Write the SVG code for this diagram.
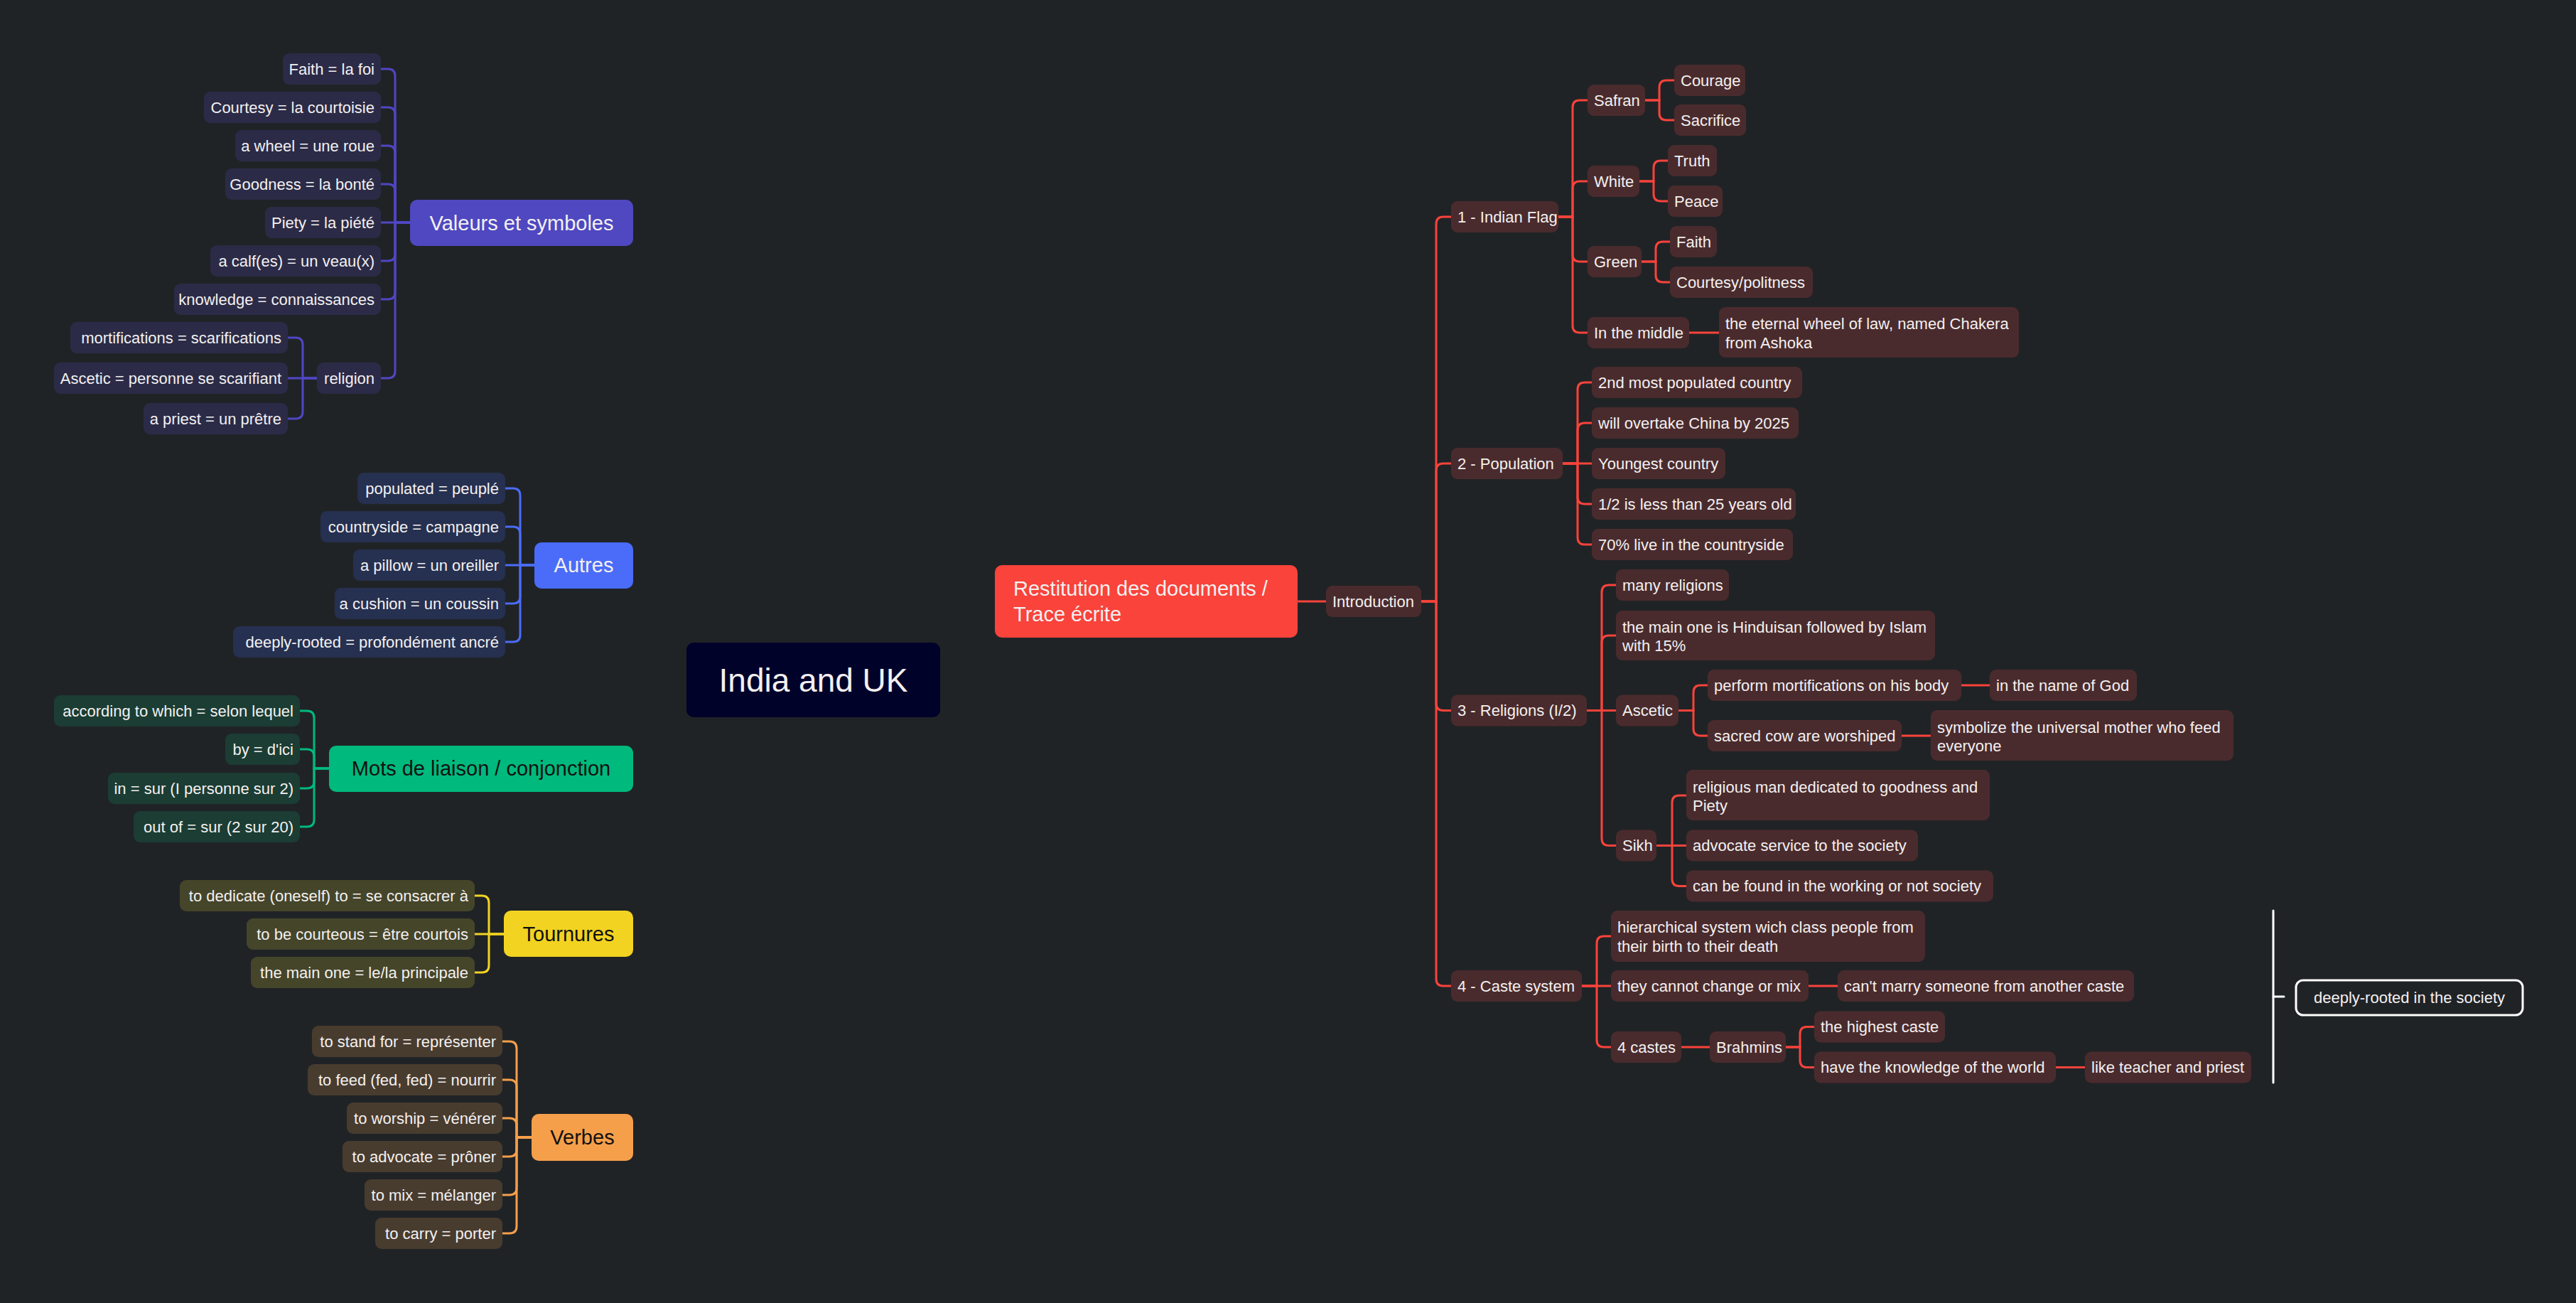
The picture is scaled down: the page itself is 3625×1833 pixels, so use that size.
<svg xmlns="http://www.w3.org/2000/svg" width="3625" height="1833" viewBox="0 0 3625 1833">
<style>
text{font-family:"Liberation Sans",Arial,sans-serif;font-size:22px;fill:#f3f0f0;dominant-baseline:central}
.e{text-anchor:end}
.m{text-anchor:middle}
.big{font-size:29px}
.dark{fill:#111111}
.pv{fill:#2b2b47}.pa{fill:#263050}.pm{fill:#1b3d33}.pt{fill:#45452a}.pb{fill:#483c2f}.pr{fill:#4a2b2d}
.c path{fill:none;stroke-width:3;stroke-linecap:round}
.cv path{stroke:#5046c4}.ca path{stroke:#4a6cf8}.cm path{stroke:#00b97c}.ct path{stroke:#f2d321}.cb path{stroke:#f69f4b}.cr path{stroke:#f9433b}.cw path{stroke:#ffffff}
</style>
<rect width="3625" height="1833" fill="#202326"/>
<g id="connectors" class="c">
<g class="cv">
<path d="M577,313 H556 V107 Q556,97 546,97 H536"/>
<path d="M577,313 H556 V161 Q556,151 546,151 H536"/>
<path d="M577,313 H556 V215 Q556,205 546,205 H536"/>
<path d="M577,313 H556 V269 Q556,259 546,259 H536"/>
<path d="M577,313 H536"/>
<path d="M577,313 H556 V357 Q556,367 546,367 H536"/>
<path d="M577,313 H556 V411 Q556,421 546,421 H536"/>
<path d="M577,313 H556 V522 Q556,532 546,532 H536"/>
<path d="M446,532 H426 V485 Q426,475 416,475 H405"/>
<path d="M446,532 H405"/>
<path d="M446,532 H426 V579 Q426,589 416,589 H405"/>
</g>
<g class="ca">
<path d="M752,795 H732 V697 Q732,687 722,687 H711"/>
<path d="M752,795 H732 V751 Q732,741 722,741 H711"/>
<path d="M752,795 H711"/>
<path d="M752,795 H732 V839 Q732,849 722,849 H711"/>
<path d="M752,795 H732 V893 Q732,903 722,903 H711"/>
</g>
<g class="cm">
<path d="M463,1081 H442 V1010 Q442,1000 432,1000 H422"/>
<path d="M463,1081 H442 V1064 Q442,1054 432,1054 H422"/>
<path d="M463,1081 H442 V1099 Q442,1109 432,1109 H422"/>
<path d="M463,1081 H442 V1153 Q442,1163 432,1163 H422"/>
</g>
<g class="ct">
<path d="M709,1314 H688 V1270 Q688,1260 678,1260 H668"/>
<path d="M709,1314 H668"/>
<path d="M709,1314 H688 V1358 Q688,1368 678,1368 H668"/>
</g>
<g class="cb">
<path d="M748,1600 H727 V1475 Q727,1465 717,1465 H707"/>
<path d="M748,1600 H727 V1529 Q727,1519 717,1519 H707"/>
<path d="M748,1600 H727 V1583 Q727,1573 717,1573 H707"/>
<path d="M748,1600 H727 V1617 Q727,1627 717,1627 H707"/>
<path d="M748,1600 H727 V1671 Q727,1681 717,1681 H707"/>
<path d="M748,1600 H727 V1725 Q727,1735 717,1735 H707"/>
</g>
<g class="cr">
<path d="M1826,846 H1866"/>
<path d="M2000,846 H2021 V315 Q2021,305 2031,305 H2042"/>
<path d="M2000,846 H2021 V662 Q2021,652 2031,652 H2042"/>
<path d="M2000,846 H2021 V989.5 Q2021,999.5 2031,999.5 H2042"/>
<path d="M2000,846 H2021 V1377 Q2021,1387 2031,1387 H2042"/>
<path d="M2193,305 H2213 V151 Q2213,141 2223,141 H2234"/>
<path d="M2193,305 H2213 V265 Q2213,255 2223,255 H2234"/>
<path d="M2193,305 H2213 V358 Q2213,368 2223,368 H2234"/>
<path d="M2193,305 H2213 V458 Q2213,468 2223,468 H2234"/>
<path d="M2315,141 H2335 V123 Q2335,113 2345,113 H2356"/>
<path d="M2315,141 H2335 V159 Q2335,169 2345,169 H2356"/>
<path d="M2307,255 H2327 V236 Q2327,226 2337,226 H2347"/>
<path d="M2307,255 H2327 V273 Q2327,283 2337,283 H2347"/>
<path d="M2310,368 H2330 V350 Q2330,340 2340,340 H2350"/>
<path d="M2310,368 H2330 V387 Q2330,397 2340,397 H2350"/>
<path d="M2377,468 H2419"/>
<path d="M2199,652 H2220 V548 Q2220,538 2230,538 H2240"/>
<path d="M2199,652 H2220 V605 Q2220,595 2230,595 H2240"/>
<path d="M2199,652 H2240"/>
<path d="M2199,652 H2220 V699 Q2220,709 2230,709 H2240"/>
<path d="M2199,652 H2220 V756 Q2220,766 2230,766 H2240"/>
<path d="M2233,999.5 H2254 V833 Q2254,823 2264,823 H2274"/>
<path d="M2233,999.5 H2254 V904 Q2254,894 2264,894 H2274"/>
<path d="M2233,999.5 H2274"/>
<path d="M2233,999.5 H2254 V1179.5 Q2254,1189.5 2264,1189.5 H2274"/>
<path d="M2362,999.5 H2383 V974 Q2383,964 2393,964 H2403"/>
<path d="M2362,999.5 H2383 V1025 Q2383,1035 2393,1035 H2403"/>
<path d="M2760,964 H2800"/>
<path d="M2676,1035 H2717"/>
<path d="M2331,1189.5 H2353 V1129 Q2353,1119 2363,1119 H2373"/>
<path d="M2331,1189.5 H2373"/>
<path d="M2331,1189.5 H2353 V1236.5 Q2353,1246.5 2363,1246.5 H2373"/>
<path d="M2226,1387 H2247 V1327 Q2247,1317 2257,1317 H2267"/>
<path d="M2226,1387 H2267"/>
<path d="M2226,1387 H2247 V1463 Q2247,1473 2257,1473 H2267"/>
<path d="M2545,1387 H2586"/>
<path d="M2366,1473 H2406"/>
<path d="M2513,1473 H2533 V1454.5 Q2533,1444.5 2543,1444.5 H2553"/>
<path d="M2513,1473 H2533 V1491.5 Q2533,1501.5 2543,1501.5 H2553"/>
<path d="M2893,1501.5 H2934"/>
</g>
<g class="cw">
<path d="M3199,1281 V1523" stroke-linecap="butt"/>
<path d="M3199,1402 H3214" stroke-linecap="butt"/>
</g>
</g>

<g id="root"><rect x="966" y="904" width="357" height="105" rx="10" fill="#01022a"/><text x="1144.5" y="956.5" class="m" style="font-size:46px">India and UK</text></g>

<g id="valeurs"><rect x="577" y="281" width="314" height="65" rx="10" fill="#4f48c0"/><text x="734" y="313.5" class="m big">Valeurs et symboles</text></g>
<g id="v1"><rect class="pv" x="398" y="75" width="138" height="44" rx="9"/><text x="527" y="97" class="e">Faith = la foi</text></g>
<g id="v2"><rect class="pv" x="287" y="129" width="249" height="44" rx="9"/><text x="527" y="151" class="e">Courtesy = la courtoisie</text></g>
<g id="v3"><rect class="pv" x="331" y="183" width="205" height="44" rx="9"/><text x="527" y="205" class="e">a wheel = une roue</text></g>
<g id="v4"><rect class="pv" x="317" y="237" width="219" height="44" rx="9"/><text x="527" y="259" class="e">Goodness = la bonté</text></g>
<g id="v5"><rect class="pv" x="373" y="291" width="163" height="44" rx="9"/><text x="527" y="313" class="e">Piety = la piété</text></g>
<g id="v6"><rect class="pv" x="296" y="345" width="240" height="44" rx="9"/><text x="527" y="367" class="e">a calf(es) = un veau(x)</text></g>
<g id="v7"><rect class="pv" x="245" y="399" width="291" height="44" rx="9"/><text x="527" y="421" class="e">knowledge = connaissances</text></g>
<g id="v8"><rect class="pv" x="446" y="510" width="90" height="44" rx="9"/><text x="527" y="532" class="e">religion</text></g>
<g id="v9"><rect class="pv" x="99" y="453" width="306" height="44" rx="9"/><text x="396" y="475" class="e">mortifications = scarifications</text></g>
<g id="v10"><rect class="pv" x="76" y="510" width="329" height="44" rx="9"/><text x="396" y="532" class="e">Ascetic = personne se scarifiant</text></g>
<g id="v11"><rect class="pv" x="202" y="567" width="203" height="44" rx="9"/><text x="396" y="589" class="e">a priest = un prêtre</text></g>

<g id="autres"><rect x="752" y="763" width="139" height="65" rx="10" fill="#4a6cf8"/><text x="821.5" y="795" class="m big">Autres</text></g>
<g id="a1"><rect class="pa" x="503" y="665" width="208" height="44" rx="9"/><text x="702" y="687" class="e">populated = peuplé</text></g>
<g id="a2"><rect class="pa" x="451" y="719" width="260" height="44" rx="9"/><text x="702" y="741" class="e">countryside = campagne</text></g>
<g id="a3"><rect class="pa" x="497" y="773" width="214" height="44" rx="9"/><text x="702" y="795" class="e">a pillow = un oreiller</text></g>
<g id="a4"><rect class="pa" x="471" y="827" width="240" height="44" rx="9"/><text x="702" y="849" class="e">a cushion = un coussin</text></g>
<g id="a5"><rect class="pa" x="328" y="881" width="383" height="44" rx="9"/><text x="702" y="903" class="e">deeply-rooted = profondément ancré</text></g>

<g id="mots"><rect x="463" y="1049" width="428" height="65" rx="10" fill="#00b97c"/><text x="677" y="1081" class="m big dark">Mots de liaison / conjonction</text></g>
<g id="m1"><rect class="pm" x="76" y="978" width="346" height="44" rx="9"/><text x="413" y="1000" class="e">according to which = selon lequel</text></g>
<g id="m2"><rect class="pm" x="317" y="1032" width="105" height="44" rx="9"/><text x="413" y="1054" class="e">by = d'ici</text></g>
<g id="m3"><rect class="pm" x="152" y="1087" width="270" height="44" rx="9"/><text x="413" y="1109" class="e">in = sur (I personne sur 2)</text></g>
<g id="m4"><rect class="pm" x="188" y="1141" width="234" height="44" rx="9"/><text x="413" y="1163" class="e">out of = sur (2 sur 20)</text></g>

<g id="tournures"><rect x="709" y="1281" width="182" height="65" rx="10" fill="#f2d321"/><text x="800" y="1314" class="m big dark">Tournures</text></g>
<g id="t1"><rect class="pt" x="253" y="1238" width="415" height="44" rx="9"/><text x="659" y="1260" class="e">to dedicate (oneself) to = se consacrer à</text></g>
<g id="t2"><rect class="pt" x="347" y="1292" width="321" height="44" rx="9"/><text x="659" y="1314" class="e">to be courteous = être courtois</text></g>
<g id="t3"><rect class="pt" x="353" y="1346" width="315" height="44" rx="9"/><text x="659" y="1368" class="e">the main one = le/la principale</text></g>

<g id="verbes"><rect x="748" y="1567" width="143" height="66" rx="10" fill="#f69f4b"/><text x="819.5" y="1600" class="m big dark">Verbes</text></g>
<g id="b1"><rect class="pb" x="439" y="1443" width="268" height="44" rx="9"/><text x="698" y="1465" class="e">to stand for = représenter</text></g>
<g id="b2"><rect class="pb" x="433" y="1497" width="274" height="44" rx="9"/><text x="698" y="1519" class="e">to feed (fed, fed) = nourrir</text></g>
<g id="b3"><rect class="pb" x="488" y="1551" width="219" height="44" rx="9"/><text x="698" y="1573" class="e">to worship = vénérer</text></g>
<g id="b4"><rect class="pb" x="482" y="1605" width="225" height="44" rx="9"/><text x="698" y="1627" class="e">to advocate = prôner</text></g>
<g id="b5"><rect class="pb" x="513" y="1659" width="194" height="44" rx="9"/><text x="698" y="1681" class="e">to mix = mélanger</text></g>
<g id="b6"><rect class="pb" x="528" y="1713" width="179" height="44" rx="9"/><text x="698" y="1735" class="e">to carry = porter</text></g>

<g id="restitution"><rect x="1400" y="795" width="426" height="102" rx="10" fill="#f9433b"/><text class="big"><tspan x="1426" y="828">Restitution des documents /</tspan><tspan x="1426" y="864">Trace écrite</tspan></text></g>
<g id="intro"><rect class="pr" x="1866" y="824" width="134" height="44" rx="9"/><text x="1875" y="846">Introduction</text></g>

<g id="flag"><rect class="pr" x="2042" y="283" width="151" height="44" rx="9"/><text x="2051" y="305">1 - Indian Flag</text></g>
<g id="safran"><rect class="pr" x="2234" y="119" width="81" height="44" rx="9"/><text x="2243" y="141">Safran</text></g>
<g id="courage"><rect class="pr" x="2356" y="91" width="100" height="44" rx="9"/><text x="2365" y="113">Courage</text></g>
<g id="sacrifice"><rect class="pr" x="2356" y="147" width="101" height="44" rx="9"/><text x="2365" y="169">Sacrifice</text></g>
<g id="white"><rect class="pr" x="2234" y="233" width="73" height="44" rx="9"/><text x="2243" y="255">White</text></g>
<g id="truth"><rect class="pr" x="2347" y="204" width="69" height="44" rx="9"/><text x="2356" y="226">Truth</text></g>
<g id="peace"><rect class="pr" x="2347" y="261" width="77" height="44" rx="9"/><text x="2356" y="283">Peace</text></g>
<g id="green"><rect class="pr" x="2234" y="346" width="76" height="44" rx="9"/><text x="2243" y="368">Green</text></g>
<g id="faith"><rect class="pr" x="2350" y="318" width="66" height="44" rx="9"/><text x="2359" y="340">Faith</text></g>
<g id="courtesy"><rect class="pr" x="2350" y="375" width="201" height="44" rx="9"/><text x="2359" y="397">Courtesy/politness</text></g>
<g id="middle"><rect class="pr" x="2234" y="446" width="143" height="44" rx="9"/><text x="2243" y="468">In the middle</text></g>
<g id="wheel"><rect class="pr" x="2419" y="432" width="422" height="71" rx="9"/><text><tspan x="2428" y="455">the eternal wheel of law, named Chakera</tspan><tspan x="2428" y="482">from Ashoka</tspan></text></g>

<g id="population"><rect class="pr" x="2042" y="630" width="157" height="44" rx="9"/><text x="2051" y="652">2 - Population</text></g>
<g id="p1"><rect class="pr" x="2240" y="516" width="296" height="44" rx="9"/><text x="2249" y="538">2nd most populated country</text></g>
<g id="p2"><rect class="pr" x="2240" y="573" width="291" height="44" rx="9"/><text x="2249" y="595">will overtake China by 2025</text></g>
<g id="p3"><rect class="pr" x="2240" y="630" width="188" height="44" rx="9"/><text x="2249" y="652">Youngest country</text></g>
<g id="p4"><rect class="pr" x="2240" y="687" width="287" height="44" rx="9"/><text x="2249" y="709">1/2 is less than 25 years old</text></g>
<g id="p5"><rect class="pr" x="2240" y="744" width="283" height="44" rx="9"/><text x="2249" y="766">70% live in the countryside</text></g>

<g id="religions"><rect class="pr" x="2042" y="977.5" width="191" height="44" rx="9"/><text x="2051" y="999.5">3 - Religions (I/2)</text></g>
<g id="r1"><rect class="pr" x="2274" y="801" width="159" height="44" rx="9"/><text x="2283" y="823">many religions</text></g>
<g id="r2"><rect class="pr" x="2274" y="859" width="449" height="70" rx="9"/><text><tspan x="2283" y="881.5">the main one is Hinduisan followed by Islam</tspan><tspan x="2283" y="908">with 15%</tspan></text></g>
<g id="ascetic"><rect class="pr" x="2274" y="977.5" width="88" height="44" rx="9"/><text x="2283" y="999.5">Ascetic</text></g>
<g id="r3"><rect class="pr" x="2403" y="942" width="357" height="44" rx="9"/><text x="2412" y="964">perform mortifications on his body</text></g>
<g id="r4"><rect class="pr" x="2800" y="942" width="207" height="44" rx="9"/><text x="2809" y="964">in the name of God</text></g>
<g id="r5"><rect class="pr" x="2403" y="1013" width="273" height="44" rx="9"/><text x="2412" y="1035">sacred cow are worshiped</text></g>
<g id="r6"><rect class="pr" x="2717" y="999" width="426" height="71" rx="9"/><text><tspan x="2726" y="1022.5">symbolize the universal mother who feed</tspan><tspan x="2726" y="1049">everyone</tspan></text></g>
<g id="sikh"><rect class="pr" x="2274" y="1167.5" width="57" height="44" rx="9"/><text x="2283" y="1189.5">Sikh</text></g>
<g id="r7"><rect class="pr" x="2373" y="1083" width="427" height="71" rx="9"/><text><tspan x="2382" y="1106.5">religious man dedicated to goodness and</tspan><tspan x="2382" y="1133">Piety</tspan></text></g>
<g id="r8"><rect class="pr" x="2373" y="1167.5" width="326" height="44" rx="9"/><text x="2382" y="1189.5">advocate service to the society</text></g>
<g id="r9"><rect class="pr" x="2373" y="1224.5" width="432" height="44" rx="9"/><text x="2382" y="1246.5">can be found in the working or not society</text></g>

<g id="caste"><rect class="pr" x="2042" y="1365" width="184" height="44" rx="9"/><text x="2051" y="1387">4 - Caste system</text></g>
<g id="k1"><rect class="pr" x="2267" y="1281" width="442" height="72" rx="9"/><text><tspan x="2276" y="1304">hierarchical system wich class people from</tspan><tspan x="2276" y="1331">their birth to their death</tspan></text></g>
<g id="k2"><rect class="pr" x="2267" y="1365" width="278" height="44" rx="9"/><text x="2276" y="1387">they cannot change or mix</text></g>
<g id="k3"><rect class="pr" x="2586" y="1365" width="417" height="44" rx="9"/><text x="2595" y="1387">can't marry someone from another caste</text></g>
<g id="k4"><rect class="pr" x="2267" y="1451" width="99" height="44" rx="9"/><text x="2276" y="1473">4 castes</text></g>
<g id="brahmins"><rect class="pr" x="2406" y="1451" width="107" height="44" rx="9"/><text x="2415" y="1473">Brahmins</text></g>
<g id="k5"><rect class="pr" x="2553" y="1422.5" width="184" height="44" rx="9"/><text x="2562" y="1444.5">the highest caste</text></g>
<g id="k6"><rect class="pr" x="2553" y="1479.5" width="340" height="44" rx="9"/><text x="2562" y="1501.5">have the knowledge of the world</text></g>
<g id="k7"><rect class="pr" x="2934" y="1479.5" width="234" height="44" rx="9"/><text x="2943" y="1501.5">like teacher and priest</text></g>

<g id="summary"><rect x="3231" y="1379" width="319" height="49" rx="10" fill="none" stroke="#ffffff" stroke-width="3"/><text x="3390.5" y="1403" class="m">deeply-rooted in the society</text></g>
</svg>
